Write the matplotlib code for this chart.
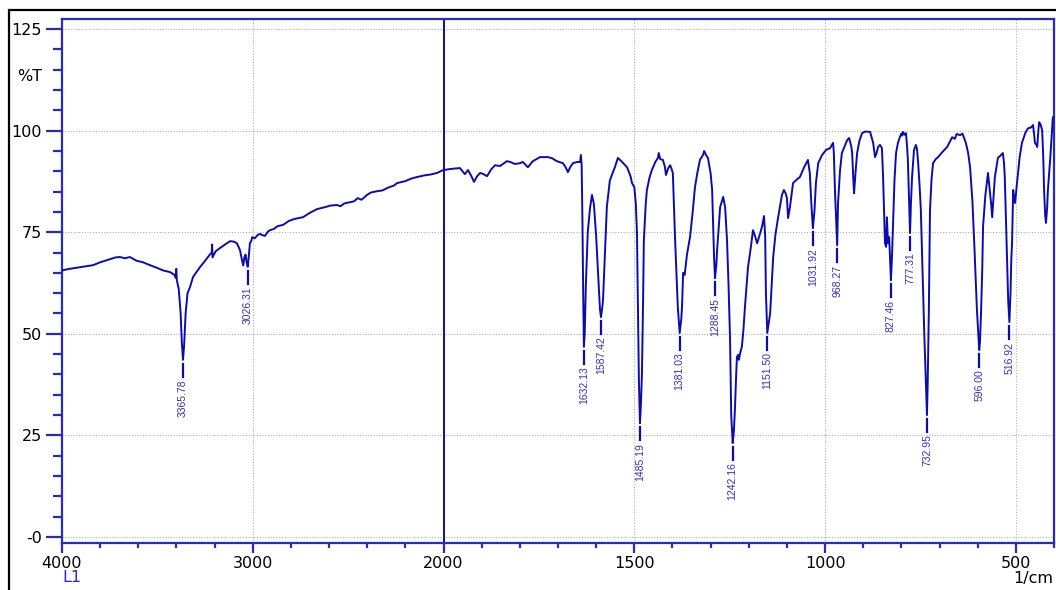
import numpy as np
import matplotlib
matplotlib.use("Agg")
import matplotlib.pyplot as plt
from matplotlib.patches import Rectangle

# FTIR spectrum, wavenumber (1/cm) vs transmittance (%T)
wavenumber = [
    4000, 3960, 3920, 3880, 3837, 3800, 3760, 3720, 3696, 3670, 3644, 3610, 3575, 3539,
    3500, 3470, 3434, 3410, 3404, 3401, 3398, 3388, 3378, 3372, 3365.78, 3360, 3352, 3342,
    3329, 3313, 3295, 3277, 3258, 3240, 3225, 3215, 3213, 3211, 3195, 3172, 3145, 3119,
    3100, 3083, 3067, 3058, 3050, 3044, 3038, 3032, 3026.31, 3021, 3015, 3008, 3003, 2990,
    2975, 2962, 2950, 2936, 2920, 2910, 2890, 2870, 2842, 2810, 2780, 2737, 2700, 2663,
    2620, 2590, 2558, 2540, 2520, 2490, 2470, 2450, 2430, 2401, 2380, 2349, 2320, 2290,
    2260, 2244, 2200, 2170, 2139, 2100, 2070, 2034, 2003,
    1980, 1957, 1944, 1936, 1928, 1920, 1912, 1904, 1895, 1886, 1875, 1865, 1852, 1834,
    1825, 1813, 1800, 1792, 1779, 1766, 1747, 1726, 1715, 1703, 1687, 1680, 1674, 1668,
    1661, 1650, 1642, 1640, 1638, 1636, 1634, 1632.13, 1630, 1627, 1622, 1616, 1611, 1606,
    1600, 1595, 1590, 1587.42, 1584, 1582, 1577, 1572, 1564, 1551, 1543, 1532, 1519, 1510,
    1506, 1500, 1496, 1493, 1490, 1488, 1485.19, 1483, 1480, 1477, 1475, 1470, 1467, 1460,
    1454, 1445, 1438, 1436, 1432, 1425, 1420, 1417, 1411, 1406, 1402, 1399, 1393, 1386,
    1381.03, 1377, 1375, 1372, 1368, 1362, 1354, 1347, 1341, 1335, 1328, 1320, 1317, 1312,
    1307, 1300, 1296, 1291, 1288.45, 1285, 1283, 1279, 1275, 1267, 1262, 1257, 1253, 1249,
    1246, 1242.16, 1239, 1236, 1233, 1231, 1228, 1226, 1222, 1218, 1214, 1210, 1202, 1195,
    1189, 1185, 1178, 1170, 1165, 1160, 1157, 1155, 1151.50, 1147, 1144, 1140, 1136, 1130,
    1123, 1113, 1108, 1103, 1100, 1097, 1092, 1084, 1075, 1066, 1055, 1045, 1040, 1036,
    1031.92, 1028, 1024, 1018, 1008, 997, 987, 979, 977, 974, 971, 968.27, 966, 961,
    956, 942, 937, 931, 929, 926, 924, 920, 916, 910, 903, 895, 882, 874,
    869, 865, 861, 856, 851, 848, 843, 840, 838, 835, 832, 829, 827.46, 825,
    822, 818, 814, 809, 804, 800, 798, 796, 792, 788, 785, 783, 780, 777.31,
    775, 772, 767, 762, 759, 756, 752, 749, 746, 743, 740, 737, 734.5, 732.95,
    731, 728, 725, 721, 717, 710, 704, 692, 680, 667, 660, 655, 646, 640,
    631, 625, 620, 614, 609, 602, 598, 596.00, 594, 591, 588, 586, 580, 576,
    573, 569, 565, 562, 559, 555, 547, 540, 534, 531, 529, 526, 523, 520,
    516.92, 514, 512, 510, 507, 504, 502, 497, 490, 484, 475, 468, 460, 455,
    452, 450, 446, 444, 441, 439, 435, 431, 428, 426, 423, 421, 418, 416,
    410, 405, 403, 400,
]
transmittance = [
    65.6, 66.0, 66.3, 66.6, 66.9, 67.6, 68.2, 68.8, 68.9, 68.6, 68.9, 68.0, 67.6, 66.9,
    66.2, 65.6, 65.2, 64.5, 63.8, 66.0, 63.2, 61.0, 55.0, 48.0, 43.6, 47.0, 55.0, 60.0,
    61.5, 64.0, 65.2, 66.4, 67.5, 68.6, 69.5, 70.0, 72.0, 68.8, 70.3, 71.1, 72.0, 72.8,
    72.7, 72.3, 70.6, 68.5, 66.8, 68.8, 69.5, 67.5, 66.5, 69.0, 72.3, 72.8, 73.8, 73.5,
    74.3, 74.6, 74.3, 74.1, 75.2, 75.5, 75.8, 76.5, 76.8, 77.8, 78.3, 78.7, 79.8, 80.7,
    81.2, 81.6, 81.7, 81.4, 82.1, 82.4, 82.6, 83.4, 83.0, 84.2, 84.8, 85.1, 85.3, 86.0,
    86.5, 87.1, 87.6, 88.2, 88.6, 89.0, 89.2, 89.6, 90.3,
    90.6, 90.8, 89.3, 90.3, 89.0, 87.4, 88.8, 89.6, 89.3, 88.8, 90.5, 91.5, 91.3, 92.5,
    92.3, 91.8, 92.0, 92.3, 91.0, 92.5, 93.5, 93.5, 93.2, 92.5, 92.0, 91.0, 89.8, 91.0,
    92.0, 92.3, 92.3, 94.0, 91.5, 78.0, 60.0, 46.8, 50.0, 62.0, 75.0, 81.0, 84.2, 82.0,
    74.0, 65.0, 56.0, 54.1, 56.5, 58.3, 70.0, 81.2, 87.8, 91.0, 93.3, 92.3, 91.0, 88.8,
    87.1, 86.1, 82.0, 74.8, 52.6, 38.7, 28.0, 32.0, 40.0, 58.0, 73.0, 82.0, 85.4, 88.5,
    90.3, 92.3, 93.3, 94.5, 93.0, 92.8, 91.2, 89.1, 90.8, 91.5, 90.5, 89.6, 73.0, 56.6,
    50.2, 53.5, 56.6, 65.0, 64.5, 69.5, 73.8, 80.0, 86.1, 89.5, 92.8, 94.0, 95.0, 94.0,
    93.3, 89.5, 85.4, 68.9, 63.7, 67.0, 70.6, 76.0, 81.2, 83.7, 81.2, 73.0, 62.0, 48.5,
    30.0, 23.1, 26.0, 32.0, 40.0, 44.3, 44.8, 43.6, 45.5, 46.8, 51.0, 56.6, 66.4, 71.0,
    75.5, 74.5, 72.3, 74.8, 76.5, 79.0, 74.0, 60.0, 50.2, 53.0, 55.0, 62.0, 68.9, 74.5,
    78.7, 84.2, 85.4, 84.5, 83.4, 78.5, 81.2, 87.1, 87.9, 88.6, 91.0, 92.8, 89.6, 82.0,
    76.0, 80.0, 87.1, 92.0, 94.0, 95.3, 95.7, 97.0, 94.5, 85.0, 78.0, 71.8, 82.2, 90.0,
    94.5, 97.7, 98.2, 96.0, 94.5, 88.0, 84.6, 90.0, 94.5, 97.5, 99.4, 99.8, 99.7, 97.0,
    93.5, 94.5, 96.0, 96.5, 95.7, 88.6, 72.3, 71.4, 78.7, 72.3, 73.8, 67.0, 63.2, 68.0,
    76.3, 88.0, 94.5, 97.0, 98.4, 99.3, 98.8, 99.7, 99.0, 99.4, 96.0, 92.8, 83.0, 74.8,
    82.0, 88.6, 95.2, 96.5, 95.5, 92.0, 86.0, 80.5, 70.0, 60.0, 50.0, 41.8, 35.0, 30.0,
    38.0, 55.9, 80.5, 88.0, 92.0, 93.0, 93.5, 94.8, 96.0, 98.4, 98.0, 99.2, 98.9, 99.3,
    97.0, 94.5, 91.0, 83.0, 72.3, 55.9, 49.0, 46.0, 48.0, 55.9, 66.0, 76.3, 84.0, 87.1,
    89.6, 86.0, 82.2, 78.7, 83.0, 88.6, 93.3, 93.9, 94.5, 92.0, 88.6, 78.0, 68.2, 58.0,
    52.9, 60.0, 68.0, 72.3, 85.4, 83.0, 82.2, 87.1, 93.5, 97.0, 99.5, 100.6, 100.8, 101.4,
    99.0, 97.0, 96.5, 96.0, 100.0, 102.1, 101.5, 100.1, 93.0, 85.4, 79.0, 77.3, 81.0, 85.4,
    93.0, 100.1, 103.3, 103.5,
]

# labelled peaks: position and the %T at the minimum
peak_wn = [3365.78, 3026.31, 1632.13, 1587.42, 1485.19, 1381.03, 1288.45, 1242.16,
           1151.50, 1031.92, 968.27, 827.46, 777.31, 732.95, 596.00, 516.92]
peak_t = [43.6, 66.5, 46.8, 54.1, 28.0, 50.2, 63.7, 23.1,
          50.2, 76.0, 71.8, 63.2, 74.8, 30.0, 46.0, 52.9]

y_ticks = [0, 25, 50, 75, 100, 125]
y_tick_labels = ["-0", "25", "50", "75", "100", "125"]
x_major = [4000, 3000, 2000, 1500, 1000, 500]

CURVE = "#0c0cae"
AXIS = "#2a2abf"
LABEL = "#3030c0"


def forward(w):
    # above 2000 1/cm the axis is compressed by a factor two
    w = np.asarray(w, dtype=float)
    return np.where(w > 2000, 2000 + (w - 2000) / 2.0, w)


def inverse(p):
    p = np.asarray(p, dtype=float)
    return np.where(p > 2000, 2000 + (p - 2000) * 2.0, p)


W, H = 1056, 590
fig = plt.figure(figsize=(W / 100, H / 100), dpi=100)
ax = fig.add_axes([62 / W, (H - 543) / H, (1054 - 62) / W, (543 - 19) / H])

ax.set_xscale("function", functions=(forward, inverse))
ax.set_xlim(4000, 400)
ax.set_ylim(-1.5, 127.5)

ax.plot(wavenumber, transmittance, color=CURVE, lw=1.4, zorder=3)

# split marker at 2000 1/cm
ax.axvline(2000, color=CURVE, lw=1.4, zorder=2)

for w, t in zip(peak_wn, peak_t):
    ax.plot([w, w], [t - 1.0, t - 4.2], color=CURVE, lw=1.6, zorder=3)
    ax.text(w, t - 4.8, f"{w:.2f}", rotation=90, ha="center", va="top",
            fontsize=7.5, family="Liberation Sans", color=LABEL, zorder=4)

ax.set_xticks(x_major)
ax.set_xticklabels([str(v) for v in x_major])
minor_x = [v for v in range(3800, 2000, -200) if v != 3000] + \
          [v for v in range(1900, 399, -100) if v not in x_major]
ax.set_xticks(minor_x, minor=True)
ax.set_yticks(y_ticks)
ax.set_yticklabels(y_tick_labels)
ax.set_yticks([v for v in range(5, 125, 5) if v % 25], minor=True)

ax.tick_params(axis="y", which="major", length=11.5, width=1.6, color=AXIS,
               pad=3, labelsize=11.5, labelcolor="black")
ax.tick_params(axis="y", which="minor", length=6.5, width=1.6, color=AXIS)
ax.tick_params(axis="x", which="major", length=7.5, width=1.6, color=AXIS,
               pad=1.5, labelsize=11.5, labelcolor="black")
ax.tick_params(axis="x", which="minor", length=3.8, width=1.6, color=AXIS)

for spine in ax.spines.values():
    spine.set_color(AXIS)
    spine.set_linewidth(1.6)

for v in y_ticks:
    ax.axhline(v, color="#b0b0b0", lw=0.8, ls=(0, (1, 1.5)), zorder=1)
for v in [3000, 1500, 1000, 500]:
    ax.axvline(v, color="#b0b0b0", lw=0.8, ls=(0, (1, 1.5)), zorder=1)

ax.text(-0.02, 113.3, "%T", transform=ax.get_yaxis_transform(),
        ha="right", va="center", fontsize=11.5, color="black")
fig.text(62 / W, 1 - 578 / H, "L1", ha="left", va="center",
         fontsize=11.5, color=AXIS)
fig.text(1053 / W, 1 - 578 / H, "1/cm", ha="right", va="center",
         fontsize=11.5, color="black")

# outer frame
fig.patches.append(Rectangle((8.5 / W, -0.05), 1.2, 1.05 - 10 / H,
                             transform=fig.transFigure, fill=False,
                             ec="black", lw=1.6))

fig.savefig("out.png", dpi=100)
